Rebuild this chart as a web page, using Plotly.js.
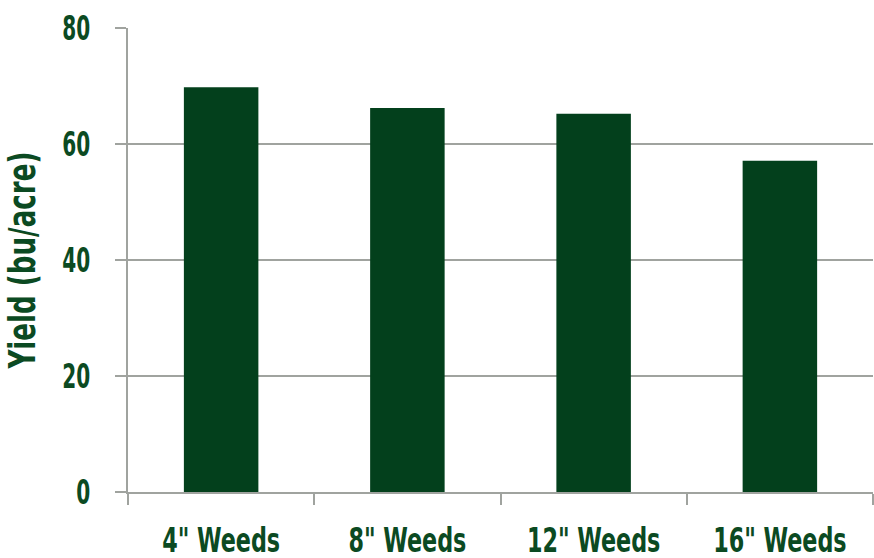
<!DOCTYPE html>
<html>
<head>
<meta charset="utf-8">
<script src="https://cdn.plot.ly/plotly-3.0.1.min.js"></script>
<style>html,body{margin:0;padding:0;background:#fff;}#chart{width:874px;height:558px;}</style>
</head>
<body>
<div id="chart"></div>
<script>
const categories = ['4" Weeds', '8" Weeds', '12" Weeds', '16" Weeds'];
const yieldValues = [69.8, 66.2, 65.2, 57.1];
const yTickValues = [0, 20, 40, 60, 80];

const FONT = '"DejaVu Sans Condensed", "DejaVu Sans", sans-serif';
const TEXT = '#0b4a22';
const GRID = '#a0a39f';

Plotly.newPlot('chart', [{
  type: 'bar',
  x: categories,
  y: yieldValues,
  marker: {color: '#03401c'},
  hoverinfo: 'skip'
}], {
  width: 874, height: 558,
  margin: {l: 128, r: 1, t: 28, b: 66},
  paper_bgcolor: '#fff', plot_bgcolor: '#fff',
  bargap: 0.6,
  showlegend: false,
  font: {family: FONT, color: TEXT},
  xaxis: {
    type: 'category',
    tickson: 'boundaries',
    tickangle: 0,
    ticks: 'outside', ticklen: 11, tickwidth: 2, tickcolor: GRID,
    showline: true, linecolor: GRID, linewidth: 2,
    showgrid: false, zeroline: false,
    ticklabelstandoff: 17,
    tickfont: {family: FONT, size: 34, weight: 'bold', color: TEXT}
  },
  yaxis: {
    range: [0, 80],
    tickvals: yTickValues,
    ticktext: yTickValues.map(String),
    ticks: 'outside', ticklen: 11, tickwidth: 2, tickcolor: GRID,
    showline: true, linecolor: GRID, linewidth: 2,
    showgrid: true, gridcolor: GRID, gridwidth: 2,
    zeroline: false,
    ticklabelstandoff: 18,
    tickfont: {family: FONT, size: 34, weight: 'bold', color: TEXT},
    title: {text: 'Yield (bu/acre)', standoff: 36, font: {family: FONT, size: 38, weight: 'bold', color: TEXT}}
  }
}, {displayModeBar: false, staticPlot: true}).then(function (gd) {
  function squeeze(selector, refText, targetWidth) {
    const nodes = gd.querySelectorAll(selector);
    let refLen = null;
    nodes.forEach(n => { if (n.textContent === refText) refLen = n.getComputedTextLength(); });
    if (!refLen) return;
    const f = targetWidth / refLen;
    nodes.forEach(n => {
      const anchor = n.getAttribute('text-anchor') || 'start';
      const b0 = n.getBBox();
      const w = n.getComputedTextLength() * f;
      n.setAttribute('textLength', w.toFixed(2));
      n.setAttribute('lengthAdjust', 'spacingAndGlyphs');
      const b1 = n.getBBox();
      let dx = 0;
      if (anchor === 'end') dx = (b0.x + b0.width) - (b1.x + b1.width);
      else if (anchor === 'middle') dx = (b0.x + b0.width / 2) - (b1.x + b1.width / 2);
      else dx = b0.x - b1.x;
      const x = parseFloat(n.getAttribute('x') || '0');
      n.setAttribute('x', (x + dx).toFixed(2));
    });
  }
  squeeze('.xtick text', '4" Weeds', 118);
  squeeze('.ytick text', '80', 28);
  squeeze('.ytitle', 'Yield (bu/acre)', 217);
});
</script>
</body>
</html>
